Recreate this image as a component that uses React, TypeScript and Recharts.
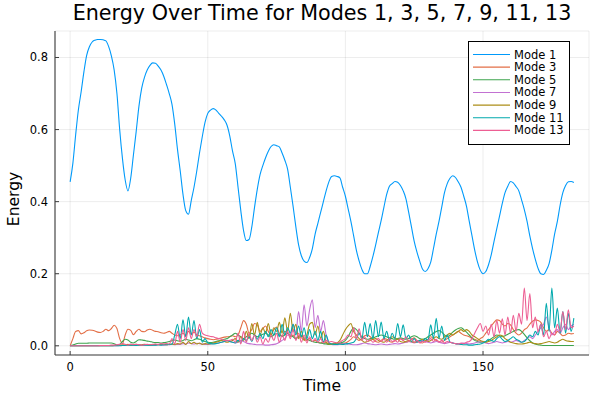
import React from 'react';
import { LineChart, Line, XAxis, YAxis, CartesianGrid, Legend } from 'recharts';

const FONT = '"DejaVu Sans", "Noto Sans", sans-serif';
const AXIS_COLOR = '#3c3c3c';

const titleText = 'Energy Over Time for Modes 1, 3, 5, 7, 9, 11, 13';
const xLabel = 'Time';
const yLabel = 'Energy';
const xTicks = [0, 50, 100, 150];
const yTicks = [0, 0.2, 0.4, 0.6, 0.8];
const xDomain = [-5.5, 188.5];
const yDomain = [-0.0255, 0.8735];

const seriesKeys = ['m1', 'm3', 'm5', 'm7', 'm9', 'm11', 'm13'];
const seriesNames = ['Mode 1', 'Mode 3', 'Mode 5', 'Mode 7', 'Mode 9', 'Mode 11', 'Mode 13'];
const seriesColors = ['#009AFA', '#E36F47', '#3EA44E', '#C271D2', '#AC8E18', '#00A9AD', '#ED5E93'];

const mode1 = [
  0.455, 0.507, 0.585, 0.655, 0.705, 0.76, 0.806, 0.83, 0.843, 0.848,
  0.85, 0.85, 0.849, 0.846, 0.83, 0.804, 0.765, 0.7, 0.6, 0.52,
  0.46, 0.43, 0.465, 0.53, 0.595, 0.665, 0.715, 0.745, 0.765, 0.778,
  0.785, 0.784, 0.776, 0.765, 0.748, 0.725, 0.7, 0.67, 0.615, 0.545,
  0.485, 0.42, 0.375, 0.365, 0.403, 0.44, 0.485, 0.535, 0.58, 0.62,
  0.645, 0.654, 0.658, 0.654, 0.645, 0.637, 0.627, 0.612, 0.582, 0.54,
  0.505, 0.44, 0.375, 0.32, 0.292, 0.295, 0.33, 0.385, 0.435, 0.475,
  0.5, 0.522, 0.54, 0.553, 0.558, 0.555, 0.552, 0.535, 0.515, 0.49,
  0.44, 0.387, 0.33, 0.28, 0.25, 0.235, 0.231, 0.245, 0.27, 0.31,
  0.34, 0.37, 0.4, 0.43, 0.455, 0.47, 0.472, 0.47, 0.466, 0.44,
  0.415, 0.38, 0.345, 0.305, 0.265, 0.235, 0.212, 0.2, 0.2, 0.22,
  0.248, 0.28, 0.315, 0.348, 0.385, 0.42, 0.443, 0.45, 0.456, 0.454,
  0.445, 0.43, 0.408, 0.37, 0.33, 0.29, 0.26, 0.235, 0.213, 0.206,
  0.214, 0.232, 0.27, 0.31, 0.345, 0.385, 0.425, 0.45, 0.465, 0.472,
  0.467, 0.455, 0.44, 0.415, 0.387, 0.345, 0.305, 0.265, 0.232, 0.21,
  0.2, 0.206, 0.225, 0.253, 0.29, 0.325, 0.36, 0.395, 0.425, 0.443,
  0.456, 0.452, 0.442, 0.43, 0.405, 0.378, 0.345, 0.305, 0.27, 0.24,
  0.215, 0.2, 0.198, 0.21, 0.228, 0.265, 0.31, 0.345, 0.39, 0.425,
  0.445, 0.455, 0.456, 0.453,
];

const mode3 = [
  0, 0.02, 0.04, 0.042, 0.033, 0.036, 0.042, 0.044, 0.043, 0.041,
  0.038, 0.037, 0.04, 0.046, 0.042, 0.048, 0.057, 0.048, 0.02, 0.006,
  0.03, 0.046, 0.043, 0.031, 0.04, 0.046, 0.04, 0.039, 0.044, 0.046,
  0.043, 0.04, 0.039, 0.036, 0.035, 0.037, 0.04, 0.035, 0.03, 0.028,
  0.03, 0.035, 0.028, 0.04, 0.032, 0.038, 0.03, 0.028, 0.025, 0.022,
  0.02, 0.018, 0.017, 0.018, 0.02, 0.022, 0.024, 0.025, 0.026, 0.028,
  0.025, 0.03, 0.05, 0.07, 0.06, 0.035, 0.045, 0.062, 0.058, 0.04,
  0.048, 0.055, 0.04, 0.03, 0.045, 0.052, 0.035, 0.028, 0.04, 0.035,
  0.025, 0.03, 0.02, 0.028, 0.022, 0.018, 0.015, 0.02, 0.012, 0.015,
  0.01, 0.008, 0.012, 0.008, 0.006, 0.005, 0.008, 0.006, 0.005, 0.007,
  0.008, 0.012, 0.018, 0.025, 0.02, 0.015, 0.02, 0.028, 0.03, 0.025,
  0.018, 0.012, 0.01, 0.015, 0.02, 0.018, 0.012, 0.01, 0.014, 0.018,
  0.02, 0.015, 0.01, 0.012, 0.018, 0.022, 0.015, 0.01, 0.008, 0.012,
  0.018, 0.025, 0.02, 0.015, 0.012, 0.01, 0.015, 0.02, 0.025, 0.03,
  0.035, 0.04, 0.035, 0.03, 0.028, 0.025, 0.02, 0.018, 0.015, 0.02,
  0.025, 0.035, 0.045, 0.055, 0.065, 0.072, 0.07, 0.06, 0.055, 0.062,
  0.058, 0.045, 0.035, 0.03, 0.035, 0.045, 0.05, 0.06, 0.068, 0.072,
  0.07, 0.065, 0.05, 0.04, 0.045, 0.035, 0.03, 0.04, 0.035, 0.028,
  0.03, 0.035, 0.033, 0.034,
];

const mode5 = [
  0, 0.002, 0.005, 0.007, 0.007, 0.007, 0.007, 0.008, 0.008, 0.008,
  0.008, 0.008, 0.008, 0.008, 0.008, 0.008, 0.006, 0.002, 0.004, 0.012,
  0.018, 0.016, 0.01, 0.008, 0.012, 0.017, 0.016, 0.015, 0.013, 0.012,
  0.01, 0.009, 0.009, 0.008, 0.009, 0.01, 0.012, 0.014, 0.016, 0.014,
  0.012, 0.015, 0.018, 0.016, 0.014, 0.017, 0.02, 0.018, 0.015, 0.012,
  0.01, 0.009, 0.01, 0.012, 0.014, 0.016, 0.018, 0.02, 0.025, 0.03,
  0.035, 0.03, 0.025, 0.02, 0.025, 0.03, 0.035, 0.03, 0.025, 0.028,
  0.032, 0.035, 0.03, 0.025, 0.03, 0.034, 0.03, 0.026, 0.03, 0.035,
  0.03, 0.025, 0.02, 0.025, 0.028, 0.022, 0.018, 0.015, 0.012, 0.01,
  0.009, 0.008, 0.006, 0.005, 0.004, 0.004, 0.005, 0.006, 0.008, 0.01,
  0.015, 0.025, 0.04, 0.05, 0.045, 0.035, 0.025, 0.02, 0.018, 0.02,
  0.022, 0.025, 0.028, 0.03, 0.028, 0.025, 0.022, 0.02, 0.018, 0.02,
  0.022, 0.02, 0.018, 0.02, 0.025, 0.028, 0.025, 0.02, 0.018, 0.02,
  0.025, 0.03, 0.035, 0.04, 0.042, 0.038, 0.03, 0.025, 0.03, 0.038,
  0.044, 0.048, 0.05, 0.045, 0.038, 0.03, 0.022, 0.015, 0.012, 0.01,
  0.01, 0.012, 0.015, 0.02, 0.025, 0.03, 0.028, 0.025, 0.028, 0.032,
  0.036, 0.04, 0.044, 0.045, 0.04, 0.032, 0.022, 0.014, 0.008, 0.005,
  0.003, 0.002, 0.001, 0.001, 0.001, 0.001, 0.001, 0.001, 0.001, 0.001,
  0.001, 0.001, 0.001, 0.001,
];

const mode7 = [
  0, 0, 0, 0, 0, 0, 0, 0, 0, 0,
  0, 0, 0, 0, 0, 0, 0, 0, 0.001, 0.001,
  0.001, 0.002, 0.001, 0.001, 0.002, 0.002, 0.001, 0.002, 0.002, 0.003,
  0.002, 0.002, 0.003, 0.003, 0.002, 0.003, 0.003, 0.004, 0.003, 0.004,
  0.004, 0.006, 0.005, 0.008, 0.006, 0.005, 0.007, 0.006, 0.005, 0.004,
  0.004, 0.005, 0.006, 0.007, 0.008, 0.01, 0.012, 0.015, 0.012, 0.01,
  0.008, 0.01, 0.015, 0.012, 0.008, 0.006, 0.005, 0.004, 0.003, 0.003,
  0.003, 0.002, 0.002, 0.003, 0.004, 0.006, 0.01, 0.015, 0.02, 0.03,
  0.03, 0.06, 0.035, 0.095, 0.04, 0.114, 0.055, 0.1, 0.128, 0.05,
  0.085, 0.04, 0.07, 0.03, 0.01, 0.004, 0.003, 0.003, 0.004, 0.005,
  0.006, 0.005, 0.004, 0.003, 0.003, 0.004, 0.006, 0.008, 0.006, 0.005,
  0.004, 0.003, 0.004, 0.005, 0.004, 0.003, 0.004, 0.005, 0.006, 0.005,
  0.006, 0.008, 0.01, 0.012, 0.01, 0.008, 0.01, 0.012, 0.015, 0.012,
  0.01, 0.008, 0.01, 0.012, 0.01, 0.008, 0.006, 0.008, 0.01, 0.008,
  0.006, 0.005, 0.006, 0.008, 0.006, 0.005, 0.006, 0.008, 0.01, 0.012,
  0.01, 0.008, 0.006, 0.008, 0.01, 0.012, 0.01, 0.008, 0.01, 0.012,
  0.01, 0.012, 0.015, 0.012, 0.01, 0.015, 0.02, 0.025, 0.02, 0.03,
  0.04, 0.05, 0.06, 0.08, 0.05, 0.03, 0.04, 0.045, 0.035, 0.05,
  0.06, 0.045, 0.055, 0.06,
];

const mode9 = [
  0, 0, 0, 0, 0, 0, 0, 0, 0, 0,
  0, 0, 0, 0, 0, 0, 0.001, 0.001, 0.002, 0.003,
  0.002, 0.004, 0.002, 0.003, 0.004, 0.002, 0.003, 0.004, 0.003, 0.002,
  0.003, 0.004, 0.003, 0.004, 0.005, 0.003, 0.004, 0.005, 0.004, 0.006,
  0.005, 0.01, 0.004, 0.012, 0.006, 0.01, 0.005, 0.008, 0.004, 0.006,
  0.005, 0.006, 0.008, 0.01, 0.012, 0.015, 0.012, 0.01, 0.012, 0.015,
  0.02, 0.01, 0.025, 0.015, 0.04, 0.02, 0.062, 0.03, 0.065, 0.03,
  0.05, 0.035, 0.062, 0.03, 0.05, 0.04, 0.065, 0.035, 0.078, 0.04,
  0.09, 0.04, 0.06, 0.02, 0.04, 0.015, 0.03, 0.06, 0.065, 0.03,
  0.055, 0.02, 0.04, 0.01, 0.005, 0.004, 0.005, 0.008, 0.015, 0.03,
  0.045, 0.055, 0.062, 0.04, 0.03, 0.02, 0.015, 0.01, 0.012, 0.015,
  0.018, 0.02, 0.015, 0.012, 0.01, 0.015, 0.02, 0.025, 0.022, 0.018,
  0.012, 0.01, 0.012, 0.015, 0.012, 0.01, 0.012, 0.015, 0.018, 0.015,
  0.012, 0.015, 0.02, 0.025, 0.02, 0.018, 0.025, 0.03, 0.035, 0.03,
  0.035, 0.04, 0.045, 0.04, 0.045, 0.04, 0.03, 0.025, 0.02, 0.015,
  0.012, 0.01, 0.012, 0.015, 0.02, 0.025, 0.03, 0.028, 0.02, 0.015,
  0.01, 0.008, 0.006, 0.005, 0.005, 0.006, 0.008, 0.01, 0.008, 0.006,
  0.005, 0.006, 0.008, 0.01, 0.012, 0.01, 0.008, 0.01, 0.015, 0.018,
  0.015, 0.013, 0.012, 0.012,
];

const mode11 = [
  0, 0, 0, 0, 0, 0, 0, 0, 0, 0,
  0, 0, 0, 0, 0, 0, 0, 0, 0, 0.001,
  0.001, 0.001, 0.002, 0.001, 0.001, 0.002, 0.001, 0.002, 0.002, 0.001,
  0.002, 0.002, 0.003, 0.002, 0.003, 0.003, 0.004, 0.005, 0.03, 0.06,
  0.02, 0.072, 0.025, 0.08, 0.03, 0.07, 0.02, 0.045, 0.01, 0.02,
  0.008, 0.006, 0.005, 0.006, 0.008, 0.01, 0.012, 0.015, 0.012, 0.01,
  0.008, 0.015, 0.01, 0.02, 0.015, 0.025, 0.012, 0.03, 0.018, 0.035,
  0.02, 0.04, 0.025, 0.045, 0.03, 0.05, 0.025, 0.06, 0.03, 0.05,
  0.035, 0.06, 0.03, 0.055, 0.025, 0.05, 0.02, 0.045, 0.02, 0.04,
  0.015, 0.04, 0.01, 0.03, 0.008, 0.005, 0.004, 0.004, 0.005, 0.004,
  0.005, 0.006, 0.008, 0.01, 0.02, 0.035, 0.02, 0.065, 0.025, 0.062,
  0.02, 0.07, 0.025, 0.066, 0.02, 0.04, 0.015, 0.035, 0.02, 0.062,
  0.025, 0.058, 0.02, 0.03, 0.012, 0.02, 0.01, 0.015, 0.012, 0.02,
  0.015, 0.058, 0.02, 0.076, 0.02, 0.055, 0.015, 0.03, 0.01, 0.008,
  0.006, 0.005, 0.004, 0.003, 0.003, 0.002, 0.002, 0.003, 0.004, 0.005,
  0.008, 0.012, 0.018, 0.015, 0.012, 0.02, 0.025, 0.018, 0.012, 0.015,
  0.02, 0.025, 0.018, 0.015, 0.01, 0.012, 0.02, 0.03, 0.025, 0.04,
  0.03, 0.06, 0.03, 0.118, 0.04, 0.16, 0.05, 0.105, 0.035, 0.095,
  0.035, 0.09, 0.04, 0.077,
];

const mode13 = [
  0, 0, 0, 0, 0, 0, 0, 0, 0, 0,
  0, 0.001, 0.001, 0.001, 0.001, 0.002, 0.002, 0.003, 0.004, 0.006,
  0.004, 0.002, 0.005, 0.003, 0.004, 0.003, 0.002, 0.003, 0.004, 0.003,
  0.004, 0.005, 0.004, 0.006, 0.005, 0.006, 0.005, 0.02, 0.005, 0.04,
  0.01, 0.045, 0.015, 0.05, 0.02, 0.045, 0.025, 0.06, 0.035, 0.03,
  0.028, 0.026, 0.025, 0.022, 0.02, 0.018, 0.015, 0.014, 0.015, 0.018,
  0.01, 0.035, 0.005, 0.04, 0.01, 0.035, 0.015, 0.03, 0.01, 0.025,
  0.005, 0.02, 0.01, 0.03, 0.015, 0.035, 0.01, 0.03, 0.015, 0.04,
  0.02, 0.045, 0.015, 0.035, 0.01, 0.03, 0.008, 0.025, 0.012, 0.02,
  0.01, 0.02, 0.008, 0.015, 0.01, 0.012, 0.01, 0.008, 0.01, 0.015,
  0.02, 0.03, 0.025, 0.05, 0.02, 0.047, 0.015, 0.025, 0.012, 0.018,
  0.01, 0.015, 0.02, 0.012, 0.018, 0.01, 0.02, 0.012, 0.015, 0.01,
  0.02, 0.015, 0.025, 0.012, 0.02, 0.01, 0.015, 0.008, 0.012, 0.01,
  0.015, 0.02, 0.012, 0.018, 0.01, 0.015, 0.008, 0.012, 0.01, 0.008,
  0.006, 0.005, 0.008, 0.006, 0.01, 0.012, 0.02, 0.035, 0.05, 0.062,
  0.04, 0.055, 0.03, 0.06, 0.025, 0.07, 0.035, 0.075, 0.03, 0.08,
  0.035, 0.085, 0.04, 0.09, 0.06, 0.16, 0.07, 0.145, 0.05, 0.08,
  0.04, 0.06, 0.025, 0.04, 0.02, 0.035, 0.03, 0.06, 0.04, 0.095,
  0.045, 0.1, 0.05, 0.055,
];

const time = mode1.map((_, i) => i);
const seriesValues = [mode1, mode3, mode5, mode7, mode9, mode11, mode13];

const data = time.map((t, i) => {
  const row: Record<string, number> = { t };
  seriesKeys.forEach((k, s) => {
    row[k] = seriesValues[s][i];
  });
  return row;
});

const XTick = (props: any) => {
  const { x, y, payload } = props;
  return (
    <g>
      <line x1={x} x2={x} y1={y} y2={y - 4} stroke={AXIS_COLOR} strokeWidth={1} />
      <text x={x} y={y + 16} textAnchor="middle" fontSize={11.5} fontFamily={FONT} fill="#000">
        {String(payload.value)}
      </text>
    </g>
  );
};

const YTick = (props: any) => {
  const { x, y, payload } = props;
  return (
    <g>
      <line x1={x} x2={x + 4} y1={y} y2={y} stroke={AXIS_COLOR} strokeWidth={1} />
      <text x={x - 7} y={y + 4} textAnchor="end" fontSize={11.5} fontFamily={FONT} fill="#000">
        {Number(payload.value).toFixed(1)}
      </text>
    </g>
  );
};

const XLabel = (props: any) => {
  const vb = props.viewBox || {};
  return (
    <text x={vb.x + vb.width / 2} y={390.5} textAnchor="middle" fontSize={15.5} fontFamily={FONT} fill="#000">
      {xLabel}
    </text>
  );
};

const YLabel = (props: any) => {
  const vb = props.viewBox || {};
  const cx = 19;
  const cy = vb.y + vb.height / 2 + 6;
  return (
    <text
      x={cx}
      y={cy}
      transform={`rotate(-90 ${cx} ${cy})`}
      textAnchor="middle"
      fontSize={15.5}
      fontFamily={FONT}
      fill="#000"
    >
      {yLabel}
    </text>
  );
};

const LegendBox = () => {
  const w = 102;
  const h = 104;
  return (
    <svg width={w} height={h} style={{ display: 'block' }}>
      <rect x={0.5} y={0.5} width={w - 1} height={h - 1} fill="#fff" stroke="#000" strokeWidth={1} />
      {seriesNames.map((name, i) => {
        const cy = 13.5 + i * 12.65;
        return (
          <g key={name}>
            <line x1={5} x2={42} y1={cy} y2={cy} stroke={seriesColors[i]} strokeWidth={1.1} />
            <text x={46} y={cy + 4} fontSize={11.5} fontFamily={FONT} fill="#000">
              {name}
            </text>
          </g>
        );
      })}
    </svg>
  );
};

export default function App() {
  return (
    <div style={{ position: 'absolute', left: 0, top: 0, width: 600, height: 400, background: '#fff' }}>
      <div
        style={{
          position: 'absolute',
          left: 22,
          top: 3,
          width: 600,
          textAlign: 'center',
          fontFamily: FONT,
          fontSize: 20.7,
          lineHeight: '20.7px',
          color: '#000',
          whiteSpace: 'nowrap',
          zIndex: 2,
        }}
      >
        {titleText}
      </div>
      <LineChart width={600} height={400} data={data} margin={{ top: 31, right: 11, bottom: 0, left: 0 }}>
        <CartesianGrid stroke="#000" strokeOpacity={0.085} strokeWidth={0.9} />
        <XAxis
          dataKey="t"
          type="number"
          domain={xDomain}
          ticks={xTicks}
          allowDataOverflow
          height={45}
          tickSize={0}
          tickMargin={0}
          tickLine={false}
          tick={<XTick />}
          axisLine={{ stroke: AXIS_COLOR, strokeWidth: 1.1 }}
          label={XLabel}
        />
        <YAxis
          type="number"
          domain={yDomain}
          ticks={yTicks}
          allowDataOverflow
          width={55}
          tickSize={0}
          tickMargin={0}
          tickLine={false}
          tick={<YTick />}
          axisLine={{ stroke: AXIS_COLOR, strokeWidth: 1.1 }}
          label={YLabel}
        />
        {seriesKeys.map((k, i) => (
          <Line
            key={k}
            dataKey={k}
            name={seriesNames[i]}
            type="monotone"
            stroke={seriesColors[i]}
            strokeWidth={1.1}
            dot={false}
            activeDot={false}
            isAnimationActive={false}
          />
        ))}
        <Legend
          layout="vertical"
          align="center"
          verticalAlign="middle"
          wrapperStyle={{ left: 468, top: 41, width: 102, height: 104 }}
          content={LegendBox}
        />
      </LineChart>
    </div>
  );
}
